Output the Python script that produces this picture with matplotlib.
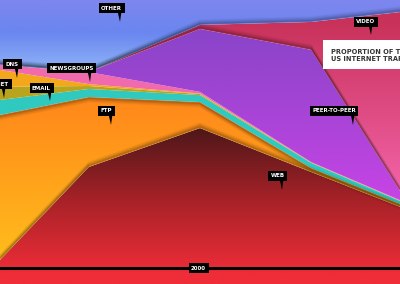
import numpy as np
import matplotlib
matplotlib.use('Agg')
import matplotlib.pyplot as plt
from matplotlib.colors import LinearSegmentedColormap
from matplotlib.patches import Polygon, Rectangle
from matplotlib.transforms import offset_copy

# share of US internet traffic (%)
years = [1998.2, 1999, 2000, 2001, 2001.8]
web = [3.0, 37.7, 52.2, 35.8, 22.8]
ftp = [54.1, 26.1, 9.7, 1.5, 1.1]
email = [5.6, 3.0, 2.6, 1.9, 1.1]
telnet = [4.9, 1.1, 0.4, 0.1, 0.1]
dns = [6.3, 0.7, 0.2, 0.1, 0.1]
newsgroups = [1.9, 4.5, 0.6, 0.1, 0.1]
p2p = [0.0, 0.0, 23.5, 41.9, 3.4]
video = [0.0, 0.0, 1.5, 10.4, 66.8]
other = [24.3, 26.9, 9.3, 8.2, 4.5]

W, H = 400, 284
YMIN, YMAX = -6, 100

fig = plt.figure(figsize=(W / 100, H / 100), dpi=100)
ax = fig.add_axes([0, 0, 1, 1])
ax.set_xlim(years[0], years[-1])
ax.set_ylim(YMIN, YMAX)
ax.axis('off')


def grad_fill(x, lo, hi, stops, z=1):
    # vertical gradient clipped to the band; stops = [(value, colour), ...]
    coll = ax.fill_between(x, lo, hi, facecolor='none', edgecolor='none')
    vals = [s[0] for s in stops]
    v0, v1 = min(vals), max(vals)
    cmap = LinearSegmentedColormap.from_list(
        '', [((v - v0) / (v1 - v0), c) for v, c in sorted(stops)])
    yy = np.linspace(YMIN, YMAX, 300)
    img = np.clip((yy - v0) / (v1 - v0), 0, 1)[:, None]
    im = ax.imshow(img, extent=[years[0], years[-1], YMIN, YMAX], origin='lower',
                   aspect='auto', cmap=cmap, vmin=0, vmax=1, zorder=z,
                   interpolation='bilinear')
    im.set_clip_path(coll.get_paths()[0], transform=ax.transData)


def shadow(x, y, up=True):
    # soft dark band just beside a layer edge
    sign = 1 if up else -1
    for k, a in zip([1, 2, 3, 4, 5], [0.22, 0.15, 0.10, 0.06, 0.03]):
        tr = offset_copy(ax.transData, fig=fig, y=sign * k, units='dots')
        ax.plot(x, y, color='black', alpha=a, lw=1.2, transform=tr, zorder=3,
                solid_capstyle='butt')


layers = [web, ftp, email, telnet, dns, newsgroups, p2p, video, other]
base = np.zeros(len(years))
bands = []
for lay in layers:
    top = base + np.array(lay)
    bands.append((base.copy(), top))
    base = top

ax.set_facecolor('#ee2d38')
# web: dark top to red bottom
lo, hi = bands[0]
grad_fill(years, np.full(len(years), YMIN), hi,
          [(52, '#4e1719'), (25, '#a82228'), (-2, '#ee2d38')])
grad_fill(years, *bands[1], [(60, '#ff8a1a'), (5, '#ffbb1c')])
ax.fill_between(years, *bands[2], color='#2fc9c0', lw=0)
ax.fill_between(years, *bands[3], color='#b9a41e', lw=0)
ax.fill_between(years, *bands[4], color='#f3a81c', lw=0)
ax.fill_between(years, *bands[5], color='#f26aae', lw=0)
grad_fill(years, *bands[6], [(90, '#8844c8'), (28, '#c444e4')])
grad_fill(years, *bands[7], [(92, '#c8325a'), (30, '#f262a6')])
grad_fill(years, *bands[8], [(100, '#7e86ee'), (88, '#6a86f0'), (75, '#8cb0f6')])

# depth shading along a few edges
shadow(years, bands[0][1], up=True)
shadow(years, bands[2][0], up=False)
shadow(years, bands[6][1], up=True)
shadow(years, bands[7][1], up=True)

ax.axhline(0, color='black', lw=2.2, zorder=5)


def tag(cx, cy, text, tip=None, ha='center'):
    ax.text(cx / W, 1 - cy / H, text, transform=ax.transAxes, ha=ha, va='center',
            color='white', fontsize=4, fontweight='bold', zorder=11,
            bbox=dict(boxstyle='square,pad=0.45', fc='black', ec='none'))
    if tip:
        tx, ty = tip
        tri = Polygon([((tx - 2.5) / W, 1 - (cy + 3) / H), ((tx + 1.5) / W, 1 - (cy + 3) / H),
                       (tx / W, 1 - ty / H)], closed=True, transform=ax.transAxes,
                      fc='black', ec='none', zorder=10)
        ax.add_patch(tri)


tag(111.5, 8, 'OTHER', (120, 22))
tag(12.5, 64, 'DNS', (17, 78))
tag(9.5, 84, 'TELNET', (4, 98), ha='right')
tag(71.5, 68, 'NEWSGROUPS', (90, 82))
tag(41.5, 88, 'EMAIL', (50, 101))
tag(106.5, 111, 'FTP', (111, 125))
tag(366, 21.5, 'VIDEO', (371, 35))
tag(334, 110.5, 'PEER-TO-PEER', (353, 125))
tag(277.5, 175.5, 'WEB', (282, 190))
tag(198.5, 268, '2000')

ax.add_patch(Rectangle((323 / W, 1 - 69 / H), 80 / W, 29 / H, transform=ax.transAxes,
                       fc='white', ec='none', zorder=11))
ax.text(331 / W, 1 - 55.5 / H, 'PROPORTION OF TOTAL\nUS INTERNET TRAFFIC',
        transform=ax.transAxes, ha='left', va='center', fontsize=4.8,
        fontweight='bold', color='#333333', linespacing=1.35, zorder=12, clip_on=True)

fig.savefig('out.png', dpi=100)
